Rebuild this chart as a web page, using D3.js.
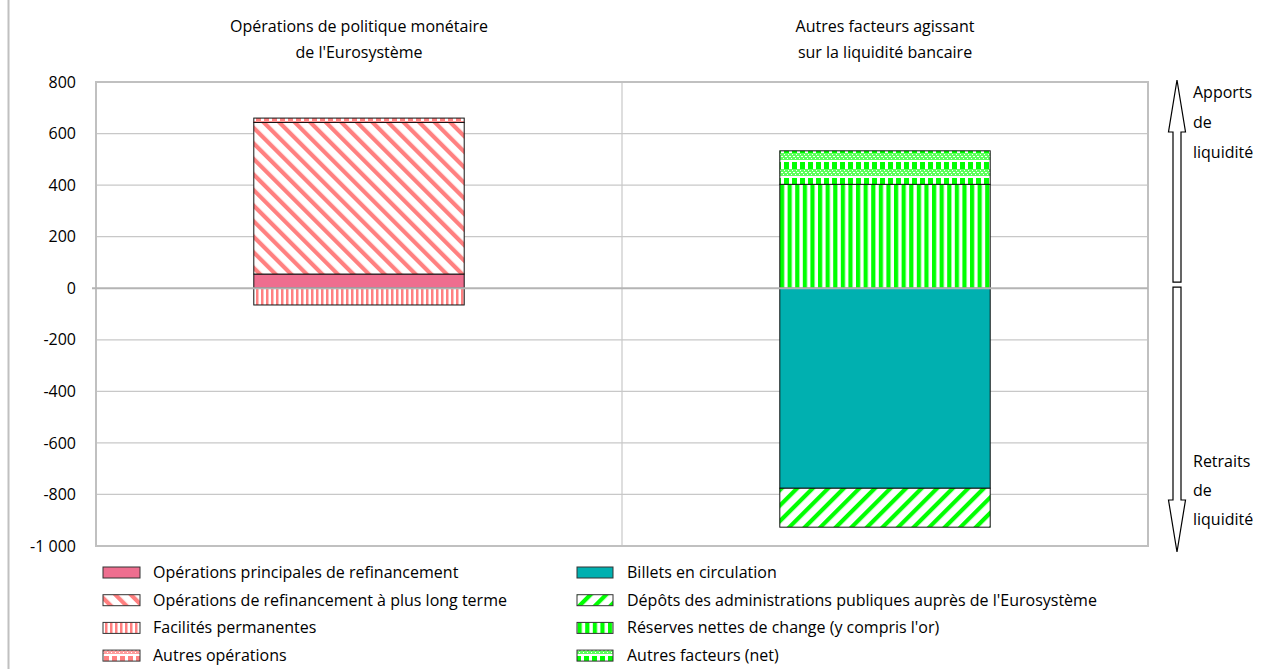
<!DOCTYPE html>
<html>
<head>
<meta charset="utf-8">
<script src="https://cdn.jsdelivr.net/npm/d3@7"></script>
<style>
  body { margin: 0; background: #fff; }
  text { font-family: "Open Sans", Lato, sans-serif; fill: #000; }
</style>
</head>
<body>
<div id="chart"></div>
<script>
// categories and titles
var categories = ["ops", "autres"];
var categoryTitles = [
  ["Opérations de politique monétaire", "de l'Eurosystème"],
  ["Autres facteurs agissant", "sur la liquidité bancaire"]
];

// series (one value each, in its own category)
var seriesNames = [
  "Opérations principales de refinancement",
  "Opérations de refinancement à plus long terme",
  "Facilités permanentes",
  "Autres opérations",
  "Billets en circulation",
  "Dépôts des administrations publiques auprès de l'Eurosystème",
  "Réserves nettes de change (y compris l'or)",
  "Autres facteurs (net)"
];
var seriesCategory = ["ops", "ops", "ops", "ops", "autres", "autres", "autres", "autres"];
var seriesValues = [55, 588, -65, 17, -776, -151, 403, 130];

var yTicks = [800, 600, 400, 200, 0, -200, -400, -600, -800, -1000];
var yTickLabels = ["800", "600", "400", "200", "0", "-200", "-400", "-600", "-800", "-1 000"];
var arrowLabels = [["Apports", "de", "liquidité"], ["Retraits", "de", "liquidité"]];

// set the dimensions and margins of the graph
var W = 1275, H = 669;
var margin = {top: 82, left: 96, right: 127, bottom: 123};
var width = W - margin.left - margin.right,
    height = H - margin.top - margin.bottom;
var fontSize = "16px";

var svg = d3.select("#chart").append("svg")
    .attr("width", W)
    .attr("height", H);

// patterns
var defs = svg.append("defs");
var salmon = "#ff8080", green = "#00ff00";

function diag(id, color, dir) {
  var p = defs.append("pattern").attr("id", id)
      .attr("patternUnits", "userSpaceOnUse")
      .attr("width", 11).attr("height", 11)
      .attr("patternTransform", "rotate(" + (dir > 0 ? 45 : -45) + ")");
  p.append("rect").attr("width", 11).attr("height", 11).attr("fill", "#fff");
  p.append("rect").attr("width", 4.2).attr("height", 11).attr("fill", color);
}
function vert(id, color, w, sw) {
  var p = defs.append("pattern").attr("id", id)
      .attr("patternUnits", "userSpaceOnUse")
      .attr("width", w).attr("height", 10);
  p.append("rect").attr("width", w).attr("height", 10).attr("fill", "#fff");
  p.append("rect").attr("width", sw).attr("height", 10).attr("fill", color);
}
function weave(id, color, light) {
  var p = defs.append("pattern").attr("id", id)
      .attr("patternUnits", "userSpaceOnUse")
      .attr("width", 8).attr("height", 16);
  p.append("rect").attr("width", 8).attr("height", 16).attr("fill", "#fff");
  p.append("rect").attr("x", 0).attr("y", 0).attr("width", 5).attr("height", 7).attr("fill", color);
  p.append("rect").attr("x", 0).attr("y", 7).attr("width", 8).attr("height", 7).attr("fill", light);
  for (var k = 0; k < 8; k += 2) {
    p.append("rect").attr("x", k).attr("y", 8 + (k % 4 === 0 ? 0 : 2)).attr("width", 1).attr("height", 1).attr("fill", "#fff");
    p.append("rect").attr("x", k + 1).attr("y", 10 + (k % 4 === 0 ? 0 : 2)).attr("width", 1).attr("height", 1).attr("fill", "#fff");
  }
}
diag("pLTRO", salmon, -1);
vert("pFac", salmon, 5, 2.5);
weave("pAutOps", salmon, "#ff9c9c");
diag("pDep", green, 1);
vert("pRes", green, 7.6, 4.2);
weave("pAutFac", green, "#5cff5c");

var fills = ["#ee6e8f", "url(#pLTRO)", "url(#pFac)", "url(#pAutOps)",
             "#00b0b0", "url(#pDep)", "url(#pRes)", "url(#pAutFac)"];

// left page rule
svg.append("line")
    .attr("x1", 8.5).attr("x2", 8.5).attr("y1", 0).attr("y2", H)
    .attr("stroke", "#c0c0c0").attr("stroke-width", 2);

var g = svg.append("g")
    .attr("transform", "translate(" + margin.left + "," + margin.top + ")");

// set the ranges
var x = d3.scaleBand().domain(categories).range([0, width]).paddingInner(0).paddingOuter(0);
var y = d3.scaleLinear().domain([-1000, 800]).range([height, 0]);

// gridlines
g.selectAll(".grid").data(yTicks.filter(function(t) { return t !== 0; }))
  .enter().append("line")
    .attr("x1", 0).attr("x2", width)
    .attr("y1", function(d) { return y(d); }).attr("y2", function(d) { return y(d); })
    .attr("stroke", "#c8c8c8").attr("stroke-width", 1.2);

// category separator
g.append("line")
    .attr("x1", x("autres")).attr("x2", x("autres"))
    .attr("y1", 0).attr("y2", height)
    .attr("stroke", "#c8c8c8").attr("stroke-width", 1.2);

// plot border
g.append("rect")
    .attr("width", width).attr("height", height)
    .attr("fill", "none").attr("stroke", "#c0c0c0").attr("stroke-width", 2);

// Y axis labels
var yAxis = g.append("g")
    .call(d3.axisLeft(y).tickValues(yTicks).tickSize(0).tickPadding(20)
      .tickFormat(function(d, i) { return yTickLabels[i]; }));
yAxis.select(".domain").remove();
yAxis.selectAll("text").style("font-size", fontSize).attr("font-family", null);

// stacked bars
var rows = categories.map(function(c) {
  var r = {cat: c};
  seriesNames.forEach(function(s, i) { r[s] = seriesCategory[i] === c ? seriesValues[i] : 0; });
  return r;
});
var stacked = d3.stack().keys(seriesNames).offset(d3.stackOffsetDiverging)(rows);
var barW = x.bandwidth() * 0.4;

stacked.forEach(function(layer, i) {
  layer.forEach(function(d) {
    if (d[1] === d[0]) return;
    g.append("rect")
      .attr("x", x(d.data.cat) + (x.bandwidth() - barW) / 2)
      .attr("y", y(Math.max(d[0], d[1])))
      .attr("width", barW)
      .attr("height", Math.abs(y(d[0]) - y(d[1])))
      .attr("fill", fills[i])
      .attr("stroke", "#111").attr("stroke-width", 1);
  });
});

// zero line
g.append("line")
    .attr("x1", -4).attr("x2", width)
    .attr("y1", y(0)).attr("y2", y(0))
    .attr("stroke", "#b4b4b4").attr("stroke-width", 2);

// category titles
categories.forEach(function(c, i) {
  categoryTitles[i].forEach(function(t, j) {
    svg.append("text")
      .attr("x", margin.left + x(c) + x.bandwidth() / 2)
      .attr("y", 32 + j * 26)
      .attr("text-anchor", "middle")
      .style("font-size", fontSize)
      .text(t);
  });
});

// arrows
var ax = margin.left + width + 29;
function arrowPath(tipY, baseY) {
  var dir = tipY < baseY ? 1 : -1;
  var headEnd = tipY + dir * 52;
  return "M" + ax + "," + tipY +
    "L" + (ax + 8.5) + "," + headEnd +
    "L" + (ax + 4) + "," + headEnd +
    "L" + (ax + 4) + "," + baseY +
    "L" + (ax - 4) + "," + baseY +
    "L" + (ax - 4) + "," + headEnd +
    "L" + (ax - 8.5) + "," + headEnd + "Z";
}
svg.append("path")
    .attr("d", arrowPath(margin.top + y(800) - 2, margin.top + y(0) - 6))
    .attr("fill", "#fff").attr("stroke", "#000").attr("stroke-width", 1.2);
svg.append("path")
    .attr("d", arrowPath(margin.top + y(-1000) + 6, margin.top + y(0) - 1))
    .attr("fill", "#fff").attr("stroke", "#000").attr("stroke-width", 1.2);

arrowLabels[0].forEach(function(t, j) {
  svg.append("text").attr("x", ax + 16).attr("y", 98 + j * 30)
    .style("font-size", fontSize).text(t);
});
arrowLabels[1].forEach(function(t, j) {
  svg.append("text").attr("x", ax + 16).attr("y", 467 + j * 29)
    .style("font-size", fontSize).text(t);
});

// legend
var legend = svg.append("g");
seriesNames.forEach(function(s, i) {
  var col = Math.floor(i / 4), row = i % 4;
  var lx = col === 0 ? 103 : 577, ly = 573 + row * 27.7;
  legend.append("rect")
    .attr("x", lx).attr("y", ly - 6)
    .attr("width", col === 0 ? 37 : 36).attr("height", 11)
    .attr("fill", fills[i]).attr("stroke", "#333").attr("stroke-width", 1);
  legend.append("text")
    .attr("x", col === 0 ? 153 : 627).attr("y", ly + 5)
    .style("font-size", fontSize)
    .text(s);
});
</script>
</body>
</html>
